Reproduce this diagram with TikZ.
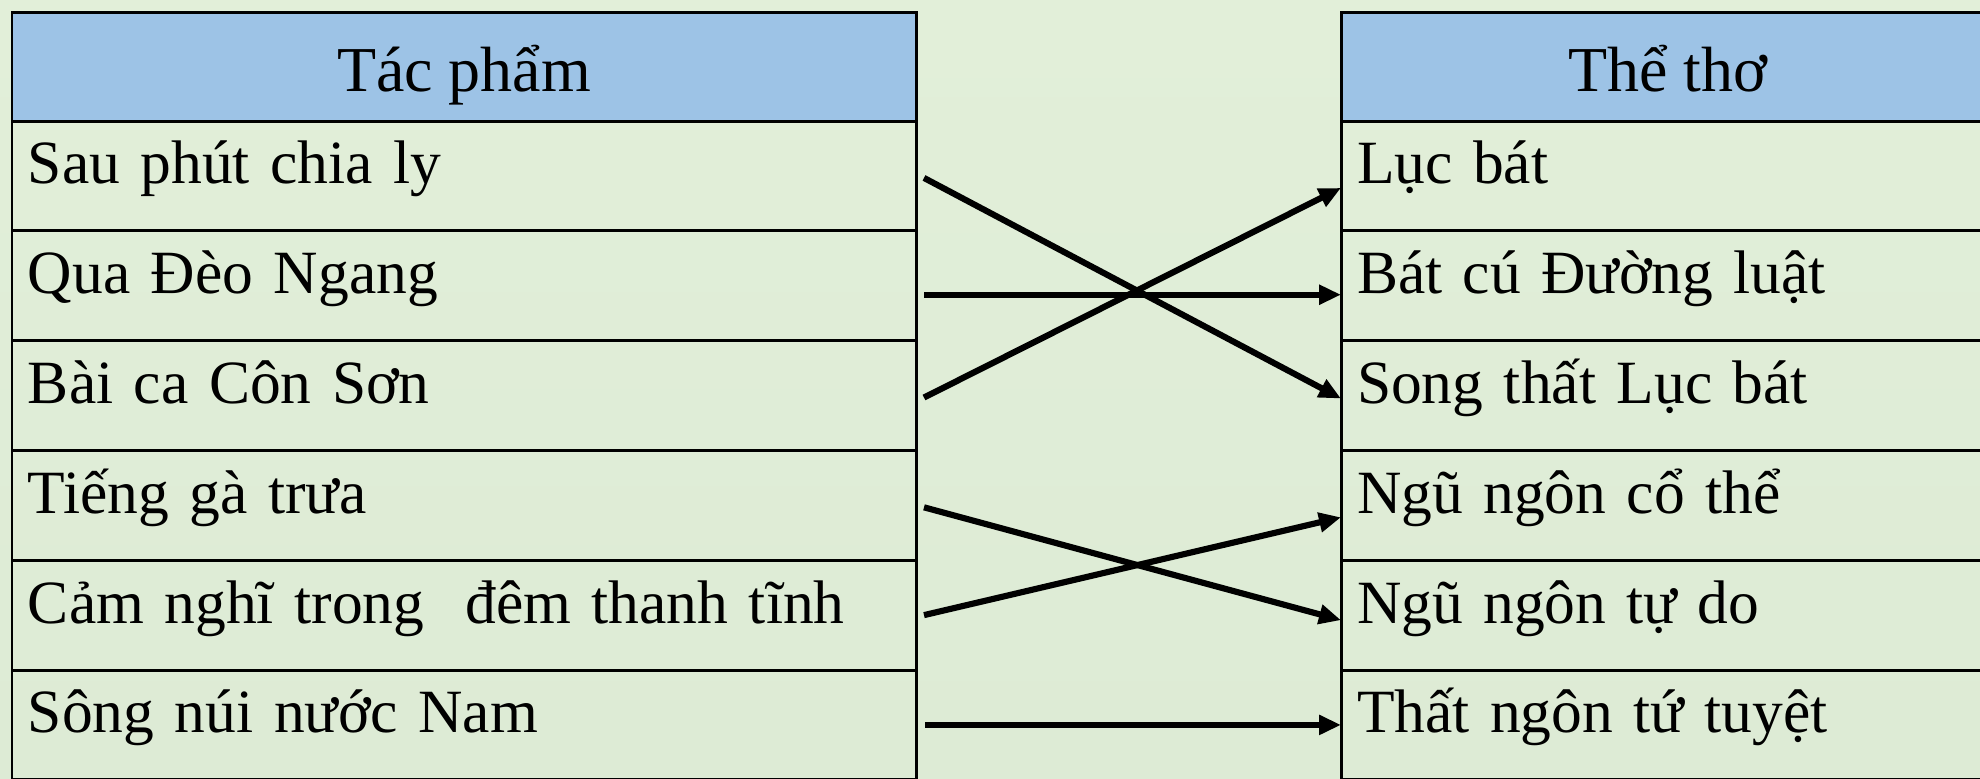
\documentclass[tikz,border=0pt]{standalone}
\usepackage{fontspec}
\setmainfont{Liberation Serif}
\usetikzlibrary{positioning}
\usetikzlibrary{arrows.meta}
\definecolor{bgtop}{HTML}{E2EFD9}
\definecolor{bgbot}{HTML}{DDEBD5}
\definecolor{headblue}{HTML}{9DC3E6}

\begin{document}
\begin{tikzpicture}[
  cell/.style={draw, line width=.85pt, inner sep=0pt, outer sep=0pt, minimum height=1.098cm,
    text height=.36cm, text depth=.2cm, font=\fontsize{17.5}{20}\selectfont},
  lcell/.style={cell, minimum width=9.04cm, text width=8.72cm, align=left},
  rcell/.style={cell, minimum width=6.54cm, text width=6.22cm, align=left},
  head/.style={cell, fill=headblue, minimum height=1.09cm, text height=.5cm, text depth=0pt,
    align=center, font=\fontsize{18.2}{22}\selectfont, anchor=north west},
  link/.style={-{Triangle[length=.22cm,width=.19cm]}, line width=1.75pt}
]
\useasboundingbox (0,0) rectangle (19.8,-7.78);
\clip (0,0) rectangle (19.8,-7.78);
\shade[top color=bgtop, bottom color=bgbot] (0,0) rectangle (19.8,-7.78);

% tac pham
\node[head, minimum width=9.04cm] (L0) at (.12,-.12) {Tác phẩm};
\node[lcell, below=0pt of L0] (L1) {Sau phút chia ly};
\node[lcell, below=0pt of L1] (L2) {Qua Đèo Ngang};
\node[lcell, below=0pt of L2] (L3) {Bài ca Côn Sơn};
\node[lcell, below=0pt of L3] (L4) {Tiếng gà trưa};
\node[lcell, below=0pt of L4] (L5) {Cảm nghĩ trong\ \ đêm thanh tĩnh};
\node[lcell, below=0pt of L5] (L6) {Sông núi nước Nam};

% the tho
\node[head, minimum width=6.54cm] (R0) at (13.41,-.12) {Thể thơ};
\node[rcell, below=0pt of R0] (R1) {Lục bát};
\node[rcell, below=0pt of R1] (R2) {Bát cú Đường luật};
\node[rcell, below=0pt of R2] (R3) {Song thất Lục bát};
\node[rcell, below=0pt of R3] (R4) {Ngũ ngôn cổ thể};
\node[rcell, below=0pt of R4] (R5) {Ngũ ngôn tự do};
\node[rcell, below=0pt of R5] (R6) {Thất ngôn tứ tuyệt};

\draw[link] ([xshift=.08cm,yshift=-.02cm]L1.east) -- ([yshift=-.03cm]R3.west);
\draw[link] ([xshift=.08cm,yshift=-.09cm]L2.east) -- ([yshift=-.09cm]R2.west);
\draw[link] ([xshift=.08cm,yshift=-.02cm]L3.east) -- ([yshift=-.12cm]R1.west);
\draw[link] ([xshift=.08cm,yshift=-.02cm]L4.east) -- ([yshift=-.05cm]R5.west);
\draw[link] ([xshift=.08cm]L5.east) -- ([yshift=-.12cm]R4.west);
\draw[link] ([xshift=.09cm]L6.east) -- (R6.west);
\end{tikzpicture}
\end{document}
